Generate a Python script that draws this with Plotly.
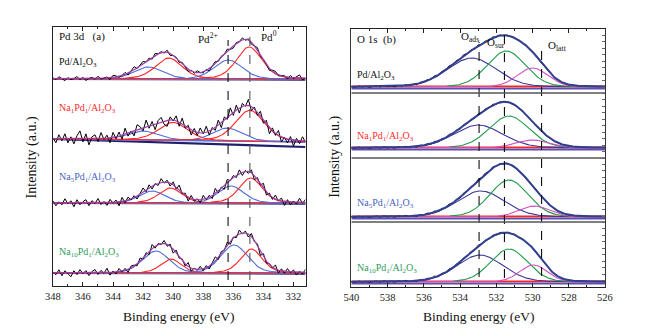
import numpy as np
import plotly.graph_objects as go

FONT = "Liberation Serif, Times New Roman, DejaVu Serif, serif"

# ---------------- Pd 3d panel (a) ----------------
pd_labels = ["Pd/Al<sub>2</sub>O<sub>3</sub>",
             "Na<sub>1</sub>Pd<sub>1</sub>/Al<sub>2</sub>O<sub>3</sub>",
             "Na<sub>5</sub>Pd<sub>1</sub>/Al<sub>2</sub>O<sub>3</sub>",
             "Na<sub>10</sub>Pd<sub>1</sub>/Al<sub>2</sub>O<sub>3</sub>"]
label_colors = ["#111111", "#ff2b2b", "#4a5fc4", "#2f9a5c"]
pd_offsets = [207, 147, 83, 13]           # a.u. offsets of stacked spectra
pd_bg_right = [0, -3, 0, 0]               # fitted background at low-BE end
pd_bg2_right = [-0.6, -8, -0.6, -0.6]     # second (navy) background line

# Pd0 3d5/2 (red), Pd2+ 3d5/2 (blue), Pd0 3d3/2 (red), Pd2+ 3d3/2 (blue)
pd0_52_pos = [334.95, 334.9, 334.85, 334.8]
pd0_52_h = [32, 31, 25, 24]
pd0_52_w = [2.0, 2.3, 1.8, 1.7]
pd2_52_pos = [336.35, 336.4, 336.15, 335.95]
pd2_52_h = [19, 13, 17, 28]
pd2_52_w = [2.2, 2.3, 2.0, 2.1]
pd0_32_pos = [340.3, 340.0, 340.2, 340.15]
pd0_32_h = [21, 18, 15, 14]
pd0_32_w = [2.1, 2.3, 1.8, 1.6]
pd2_32_pos = [341.65, 342.0, 341.4, 341.15]
pd2_32_h = [12, 9, 12, 22]
pd2_32_w = [2.3, 2.5, 2.0, 2.1]

pd_noise = [
    [1, -1, 2, 0, -2, 1, -1, 0, 2, -1, 1, -2, 0, 1, -1, 2, -1, 0, 1, -2, 2, 1, -1, 0, 2, -2, 1, 3, -1, 0, 2, -1, 1, -2, 2, 0, 1, -1, 2, -2, 0, 1, -1, 2, 0, -2, 1, -1, 2, 0, -1, 1, -2, 0, 2, -1, 1, 0, 2, -1, -2, 1, 0, 2, -1, 1, -2, 0, 3, -1, 1, 0, -2, 1, 2, -1, 0, 1, -2, 2, -1, 1, 3, -2, 0],
    [1, -4, 4, -2, 5, -4, 2, -5, 3, 8, -3, 5, -6, 2, 4, -3, 6, -1, 3, -5, 5, -2, 4, -4, 6, -3, 1, -5, 5, 2, -3, 7, -2, 4, -5, 3, 5, -3, -6, 3, -1, 5, -4, 6, -2, 3, -5, 3, -3, 5, -1, 6, -4, 2, -3, 5, -5, 3, -2, 7, -3, 5, -5, 3, -1, 6, -4, 2, -3, 5, -3, 4, -6, 3, -2, 5, -5, 1, -4, 3, -6, 2, -3, 4, -1],
    [2, -3, 1, -2, 4, -1, 2, -4, 3, -2, 1, 3, -3, 2, -1, 4, -2, 1, -3, 3, -1, 2, -4, 4, -2, 3, -1, 2, -3, 1, 4, -2, 3, -3, 1, -2, 4, -1, 2, -3, 3, -2, 5, -1, 2, -4, 3, -2, 1, -3, 4, -1, 2, -3, 5, -2, 1, -4, 3, -1, 2, -2, 4, -3, 1, -2, 3, -4, 2, -1, 5, -3, 2, -2, 4, -1, 3, -4, 2, -3, 1, -2, 4, -1, 3],
    [1, -2, 3, -3, 2, -1, -4, 2, -2, 3, -1, 2, -3, 1, 3, -2, 2, -1, 4, -3, 1, -2, 3, -1, 2, -3, 2, 1, -2, 3, -1, 2, -3, 4, -2, 1, -1, 3, -2, 2, -4, 3, -1, 2, -2, 4, -3, 1, -1, 3, -2, 2, -3, 1, 4, -2, 2, -1, 3, -3, 1, -2, 4, -1, 2, -3, 3, -1, 2, -4, 3, -2, 1, -1, 4, -3, 2, -2, 3, -1, 2, -3, 1, -2, 3],
]
pd_range = [348, 331.2]
pd_vlines_x = [336.35, 334.9]
pd_vlines_top = [246, 253]
pd_vlines_bot = [6, 6]
pd_vline_colors = ["#111111", "#555555"]

# ---------------- O 1s panel (b) ----------------
o_offsets = [200, 139, 70, 5]
o_dividers = [194, 129, 65]
o_ads_pos = [533.35, 533.0, 532.85, 532.9]
o_ads_h = [29, 23, 26, 27]
o_ads_w = [3.2, 3.2, 3.1, 3.0]
o_sur_pos = [531.45, 531.3, 531.3, 531.3]
o_sur_h = [36, 32, 37, 33]
o_sur_w = [2.5, 2.6, 2.5, 2.4]
o_latt_pos = [530.0, 530.0, 529.9, 529.95]
o_latt_h = [19, 8, 11, 17]
o_latt_w = [2.0, 2.2, 2.0, 1.8]
o_resid = [0.3, -0.5, 0.6, -0.2, 0.4, -0.6, 0.2, 0.5, -0.4, 0.7, -0.3, 0.1, -0.6, 0.5, -0.2, 0.8, -0.5, 0.3, -0.7, 0.6, -0.1, 0.9, -0.4, 1.2, -0.8, 1.0, -0.6, 1.3, -0.5, 0.9, -1.0, 1.1, -0.4, 0.8, -0.9, 1.2, -0.3, 0.7, -0.8, 1.0, -0.5, 0.6, -0.7, 0.4, -0.3, 0.6, -0.5, 0.2, -0.4, 0.3, -0.2, 0.5, -0.3, 0.2, -0.4, 0.3, -0.1, 0.2, -0.3, 0.1, -0.2, 0.3, -0.1, 0.2, -0.2, 0.1, -0.1, 0.2, -0.1, 0.1, 0.0]
o_range = [540, 526]
o_vlines_x = [532.95, 531.55, 529.5]
o_vlines_top = [245, 252, 244]
o_vlines_bot = [10, 9, 11]


def pv(x, c, h, w, eta):
    s = w / 2.3548
    g = np.exp(-(x - c) ** 2 / (2 * s * s))
    l = 1.0 / (1.0 + ((x - c) / (w / 2)) ** 2)
    return h * ((1 - eta) * g + eta * l)


fig = go.Figure()


def line(x, y, color, width, xa, ya, dash=None):
    fig.add_trace(go.Scatter(x=x, y=y, mode="lines", xaxis=xa, yaxis=ya,
                             line=dict(color=color, width=width, dash=dash),
                             showlegend=False, hoverinfo="skip"))


# Pd 3d spectra
xf = np.linspace(348, 331.2, 400)
for i in range(4):
    off = pd_offsets[i]
    frac = (348 - xf) / (348 - 331.2)
    bg = off + pd_bg_right[i] * frac
    bg2 = off + pd_bg2_right[i] * frac
    r1 = pv(xf, pd0_52_pos[i], pd0_52_h[i], pd0_52_w[i], 0.3)
    b1 = pv(xf, pd2_52_pos[i], pd2_52_h[i], pd2_52_w[i], 0.2)
    r2 = pv(xf, pd0_32_pos[i], pd0_32_h[i], pd0_32_w[i], 0.3)
    b2 = pv(xf, pd2_32_pos[i], pd2_32_h[i], pd2_32_w[i], 0.2)
    line(xf, bg2, "#1f1f6e", 2.2, "x", "y")
    line(xf, bg, "#8a86d6", 1.4, "x", "y")
    for comp, col in ((b2, "#4d6fd6"), (r2, "#ff2424"), (b1, "#4d6fd6"), (r1, "#ff2424")):
        line(xf, bg + comp, col, 1.1, "x", "y")
    nz = np.array(pd_noise[i], dtype=float)
    xr = np.linspace(348, 331.2, len(nz))
    fr = (348 - xr) / (348 - 331.2)
    env_r = off + pd_bg_right[i] * fr + sum(
        pv(xr, p, h, w, e) for p, h, w, e in (
            (pd0_52_pos[i], pd0_52_h[i], pd0_52_w[i], 0.3),
            (pd2_52_pos[i], pd2_52_h[i], pd2_52_w[i], 0.2),
            (pd0_32_pos[i], pd0_32_h[i], pd0_32_w[i], 0.3),
            (pd2_32_pos[i], pd2_32_h[i], pd2_32_w[i], 0.2)))
    line(xr, env_r + nz, "#000000", 1.0, "x", "y")
    line(xf, bg + r1 + b1 + r2 + b2, "#9a3fa6", 1.2, "x", "y")

for j in range(2):
    line([pd_vlines_x[j]] * 2, [pd_vlines_bot[j], pd_vlines_top[j]],
         pd_vline_colors[j], 1.1, "x", "y", dash="dash")

# O 1s spectra
xo = np.linspace(540, 526, 400)
for i in range(4):
    off = o_offsets[i]
    a = pv(xo, o_ads_pos[i], o_ads_h[i], o_ads_w[i], 0.12)
    s = pv(xo, o_sur_pos[i], o_sur_h[i], o_sur_w[i], 0.12)
    t = pv(xo, o_latt_pos[i], o_latt_h[i], o_latt_w[i], 0.12)
    line(xo, np.full_like(xo, off - 1.5), "#5b4fb5", 2.0, "x2", "y2")
    line(xo, np.full_like(xo, off + 0.6), "#ff2424", 1.6, "x2", "y2")
    line(xo, off + a, "#38379a", 1.1, "x2", "y2")
    line(xo, off + s, "#1f9a4a", 1.1, "x2", "y2")
    line(xo, off + t, "#d14fc0", 1.1, "x2", "y2")
    nz = np.array(o_resid, dtype=float)
    xr = np.linspace(540, 526, len(nz))
    env_r = off + sum(pv(xr, p, h, w, 0.12) for p, h, w in (
        (o_ads_pos[i], o_ads_h[i], o_ads_w[i]),
        (o_sur_pos[i], o_sur_h[i], o_sur_w[i]),
        (o_latt_pos[i], o_latt_h[i], o_latt_w[i])))
    line(xr, env_r + nz, "#000000", 1.0, "x2", "y2")
    line(xo, off + a + s + t, "#33408f", 2.0, "x2", "y2")

for j in range(3):
    line([o_vlines_x[j]] * 2, [o_vlines_bot[j], o_vlines_top[j]],
         "#111111", 1.1, "x2", "y2", dash="dash")

for d in o_dividers:
    line([540, 526], [d, d], "#555555", 1.5, "x2", "y2")

W, H = 652, 333
px = lambda v: v / W
py = lambda v: 1 - v / H

xcommon = dict(showline=True, mirror="ticks", linecolor="#222", linewidth=1.2,
               ticks="inside", ticklen=4, tickcolor="#222", dtick=2,
               minor=dict(ticks="inside", ticklen=2, dtick=1, tickcolor="#222"),
               tickfont=dict(family=FONT, size=10.5, color="#222"),
               showgrid=False, zeroline=False)

fig.update_layout(
    width=W, height=H, margin=dict(l=0, r=0, t=0, b=0),
    paper_bgcolor="white", plot_bgcolor="white",
    xaxis=dict(domain=[px(46), px(305)], range=pd_range, anchor="y", tick0=348, **xcommon),
    yaxis=dict(domain=[py(286), py(27)], range=[0, 259], anchor="x",
               showline=True, mirror=True, linecolor="#222", linewidth=1.2,
               showticklabels=False, ticks="", showgrid=False, zeroline=False),
    xaxis2=dict(domain=[px(352), px(612)], range=o_range, anchor="y2", tick0=540, **xcommon),
    yaxis2=dict(domain=[py(287), py(29)], range=[0, 258], anchor="x2", side="right",
                showline=True, mirror=True, linecolor="#333", linewidth=1.2,
                showticklabels=False, ticks="inside", ticklen=3, tickcolor="#666",
                dtick=6.45, tick0=0, showgrid=False, zeroline=False),
)

ann = []


def text(x, y, s, size=11, color="#111", xanchor="left", angle=0):
    ann.append(dict(x=px(x), y=py(y), xref="paper", yref="paper", text=s, showarrow=False,
                    xanchor=xanchor, yanchor="middle", textangle=angle,
                    font=dict(family=FONT, size=size, color=color)))


text(50, 36, "Pd 3d&nbsp;&nbsp;&nbsp;(a)", 11)
text(193, 38, "Pd<sup>2+</sup>", 11)
text(257, 36, "Pd<sup>0</sup>", 11)
pd_label_y = [62, 108, 177, 252]
for i in range(4):
    text(50, pd_label_y[i], pd_labels[i], 10, label_colors[i])

text(356, 40, "O 1s&nbsp;&nbsp;(b)", 11)
text(462, 37, "O<sub>ads</sub>", 11)
text(489, 43, "O<sub>sur</sub>", 11)
text(552, 46, "O<sub>latt</sub>", 11)
o_label_y = [75, 137, 203, 268]
for i in range(4):
    text(356, o_label_y[i], pd_labels[i], 10, label_colors[i])

text(175, 316, "Binding energy (eV)", 13.5, "#111", xanchor="center")
text(482, 316, "Binding energy (eV)", 13.5, "#111", xanchor="center")
text(25, 157, "Intensity (a.u.)", 14, "#111", xanchor="center", angle=-90)
text(335, 157, "Intensity (a.u.)", 14, "#111", xanchor="center", angle=-90)

fig.update_layout(annotations=ann)
fig.write_html("out.html", config={"displayModeBar": False},
               post_script="document.body.style.margin='0';")
